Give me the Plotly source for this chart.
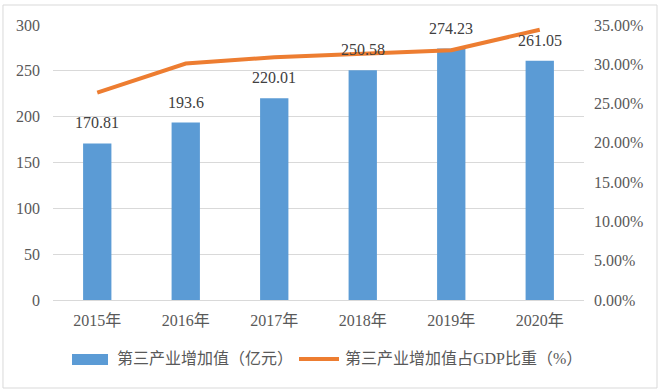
import plotly.graph_objects as go

years = ["2015年", "2016年", "2017年", "2018年", "2019年", "2020年"]
added_value = [170.81, 193.6, 220.01, 250.58, 274.23, 261.05]
gdp_share = [0.264, 0.301, 0.309, 0.314, 0.318, 0.344]
bar_name = "第三产业增加值（亿元）"
line_name = "第三产业增加值占GDP比重（%）"

FONT = "Liberation Serif, Times New Roman, Noto Sans CJK SC, serif"
GRAY = "#595959"
BLUE = "#5B9BD5"
ORANGE = "#ED7D31"

fig = go.Figure()
fig.add_trace(go.Bar(
    x=years, y=added_value, name=bar_name,
    marker=dict(color=BLUE, line=dict(width=0)),
    width=0.32,
))
fig.add_trace(go.Scatter(
    x=years, y=gdp_share, name=line_name, yaxis="y2",
    mode="lines", line=dict(color=ORANGE, width=4),
))

for xv, yv in zip(years, added_value):
    fig.add_annotation(
        x=xv, y=yv, text=f"{yv:g}", showarrow=False,
        yanchor="bottom", yshift=10,
        font=dict(family=FONT, size=16, color="#404040"),
    )

# custom legend (wide symbols like the original)
LEG_Y = -0.2145
fig.add_annotation(xref="paper", yref="paper", x=0.1168, y=LEG_Y,
                   xanchor="left", yanchor="middle", showarrow=False,
                   text=bar_name, font=dict(family=FONT, size=16, color=GRAY))
fig.add_annotation(xref="paper", yref="paper", x=0.5461, y=LEG_Y,
                   xanchor="left", yanchor="middle", showarrow=False,
                   text=line_name, font=dict(family=FONT, size=16, color=GRAY))

shapes = [
    dict(type="rect", xref="paper", yref="paper",
         x0=0.0358, x1=0.1036, y0=-0.2364, y1=-0.1964,
         fillcolor=BLUE, line=dict(width=0)),
    dict(type="line", xref="paper", yref="paper",
         x0=0.4633, x1=0.5386, y0=LEG_Y, y1=LEG_Y,
         line=dict(color=ORANGE, width=4)),
    dict(type="rect", xref="paper", yref="paper",
         x0=-0.0942, x1=1.1375, y0=-0.32, y1=1.0727,
         line=dict(color="#d9d9d9", width=1), fillcolor="rgba(0,0,0,0)"),
]

fig.update_layout(
    width=660, height=391,
    margin=dict(l=53, r=76, t=25, b=91),
    paper_bgcolor="white", plot_bgcolor="white",
    font=dict(family=FONT, size=16, color=GRAY),
    showlegend=False,
    xaxis=dict(
        showgrid=False, showline=True, linecolor="#d9d9d9", linewidth=1,
        ticks="", tickfont=dict(family=FONT, size=16, color=GRAY),
        ticklabelstandoff=6,
    ),
    yaxis=dict(
        range=[0, 300], dtick=50, showgrid=True, gridcolor="#d9d9d9",
        gridwidth=1, zeroline=False, showline=False, ticks="",
        tickfont=dict(family=FONT, size=16, color=GRAY),
        ticklabelstandoff=12,
    ),
    yaxis2=dict(
        range=[0, 0.35], dtick=0.05, tickformat=".2%", overlaying="y",
        side="right", showgrid=False, zeroline=False, showline=False,
        ticks="", tickfont=dict(family=FONT, size=16, color=GRAY),
        ticklabelstandoff=9,
    ),
    shapes=shapes,
)

fig.write_html(
    "out.html",
    config={"displayModeBar": False},
    post_script="document.body.style.margin='0';document.body.style.padding='0';",
)
